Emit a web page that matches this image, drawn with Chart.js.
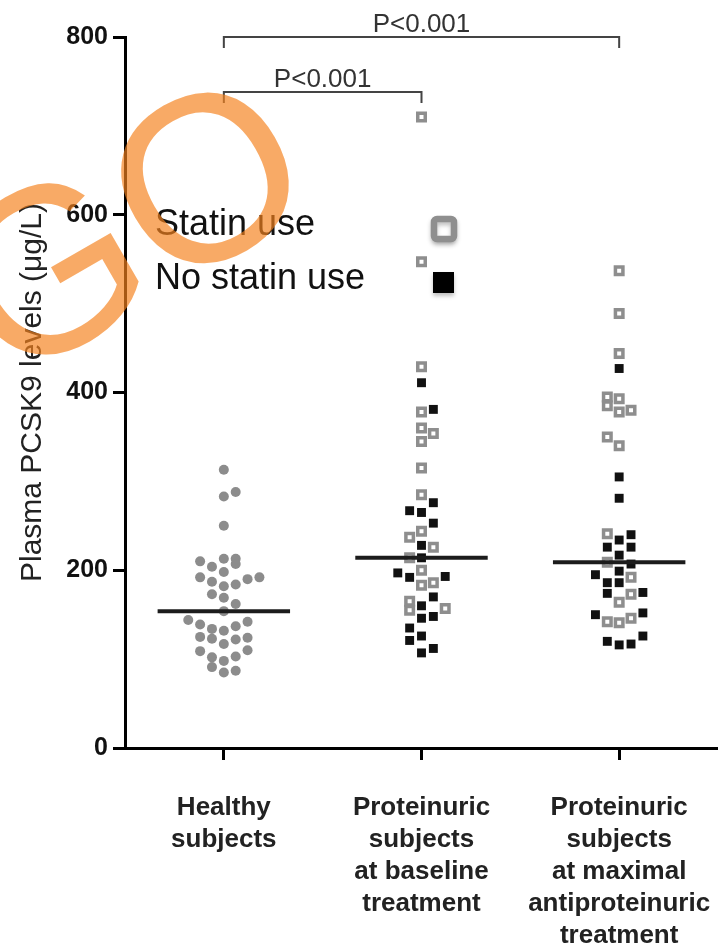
<!DOCTYPE html>
<html>
<head>
<meta charset="utf-8">
<title>Plasma PCSK9 levels</title>
<script src="https://cdn.jsdelivr.net/npm/chart.js@4.4.1/dist/chart.umd.min.js"></script>
<style>
  html, body { margin: 0; padding: 0; background: #fff; }
  #chartCanvas { display: block; }
</style>
</head>
<body>
<canvas id="chartCanvas" width="718" height="949"></canvas>
<script>
const groupLabels = [
    ["Healthy", "subjects"],
    ["Proteinuric", "subjects", "at baseline", "treatment"],
    ["Proteinuric", "subjects", "at maximal", "antiproteinuric", "treatment"]
];
const yTicks = [0, 200, 400, 600, 800];
const medians = [154, 214, 209];
const pLabels = ["P<0.001", "P<0.001"];
const seriesNames = ["Statin use", "No statin use"];

// each point: [column in the swarm, PCSK9 level]
const healthy = [
    [0, 313], [0, 283], [1, 288], [0, 250], [-2, 210], [-1, 204], [0, 213], [1, 213],
    [1, 207], [0, 198], [-2, 192], [-1, 187], [0, 182], [1, 184], [2, 190], [3, 192],
    [-1, 173], [0, 169], [1, 162], [0, 154], [-3, 144], [-2, 139], [-1, 134], [0, 132],
    [1, 137], [2, 142], [-2, 125], [-1, 123], [0, 117], [1, 122], [2, 124], [-2, 109],
    [-1, 102], [0, 98], [1, 103], [2, 110], [-1, 91], [0, 85], [1, 87]
];
const baselineStatin = [
    [0, 710], [0, 547], [0, 429], [0, 378], [0, 360], [1, 354], [0, 345], [0, 315],
    [0, 285], [0, 244], [-1, 237], [1, 226], [-1, 214], [0, 200], [0, 183], [1, 186],
    [-1, 165], [-1, 155], [2, 157]
];
const baselineNoStatin = [
    [0, 411], [1, 381], [1, 276], [-1, 267], [0, 265], [1, 253], [0, 228], [0, 214],
    [-2, 197], [-1, 192], [2, 193], [1, 170], [0, 160], [0, 146], [1, 148], [-1, 135],
    [-1, 121], [0, 126], [0, 107], [1, 112]
];
const maximalStatin = [
    [0, 537], [0, 489], [0, 444], [-1, 395], [0, 393], [-1, 385], [0, 378], [1, 380],
    [-1, 350], [0, 340], [-1, 241], [-1, 209], [1, 192], [1, 173], [0, 164], [-1, 142],
    [0, 141], [1, 146]
];
const maximalNoStatin = [
    [0, 427], [0, 305], [0, 281], [0, 234], [1, 240], [-1, 226], [1, 226], [0, 217],
    [1, 207], [0, 199], [-2, 195], [-1, 186], [0, 186], [-1, 174], [2, 175], [-2, 150],
    [2, 152], [-1, 120], [0, 116], [1, 117], [2, 126]
];

const SLOT = 0.06;
const HALF_MEDIAN = 0.335;

function toPoints(group, list) {
    return list.map(([slot, v]) => ({ x: group + slot * SLOT, y: v }));
}

function medianLine(group) {
    const v = medians[group - 1];
    return {
        type: 'line',
        data: [{ x: group - HALF_MEDIAN, y: v }, { x: group + HALF_MEDIAN, y: v }],
        borderColor: '#1c1c1c',
        borderWidth: 4,
        pointRadius: 0,
        order: 0
    };
}

const statinStyle = {
    pointStyle: 'rect',
    pointRadius: 5.3,
    pointBackgroundColor: '#ffffff',
    pointBorderColor: '#8e8e8e',
    pointBorderWidth: 3.5,
    order: 1
};
const noStatinStyle = {
    pointStyle: 'rect',
    pointRadius: 6.3,
    pointBackgroundColor: '#111111',
    pointBorderWidth: 0,
    order: 1
};

const annotations = {
    id: 'annotations',
    afterDraw(chart) {
        const ctx = chart.ctx;
        const x = chart.scales.x;
        const y = chart.scales.y;

        // significance brackets
        const brackets = [[1, 3, 800, pLabels[0]], [1, 2, 738, pLabels[1]]];
        ctx.save();
        ctx.strokeStyle = '#444';
        ctx.lineWidth = 2;
        ctx.fillStyle = '#333';
        ctx.font = '26px "Liberation Sans", Arial, sans-serif';
        ctx.textAlign = 'center';
        ctx.textBaseline = 'alphabetic';
        brackets.forEach(([a, b, level, text]) => {
            const x1 = x.getPixelForValue(a);
            const x2 = x.getPixelForValue(b);
            const yy = y.getPixelForValue(level);
            ctx.beginPath();
            ctx.moveTo(x1, yy + 11);
            ctx.lineTo(x1, yy);
            ctx.lineTo(x2, yy);
            ctx.lineTo(x2, yy + 11);
            ctx.stroke();
            ctx.fillText(text, (x1 + x2) / 2, yy - 5);
        });
        ctx.restore();

        // legend
        ctx.save();
        ctx.fillStyle = '#111';
        ctx.font = '36px "Liberation Sans", Arial, sans-serif';
        ctx.textAlign = 'left';
        ctx.textBaseline = 'middle';
        ctx.fillText(seriesNames[0], 155, 225);
        ctx.fillText(seriesNames[1], 155, 279);

        ctx.shadowColor = 'rgba(0,0,0,0.25)';
        ctx.shadowBlur = 4;
        ctx.shadowOffsetY = 3;
        ctx.strokeStyle = '#8f8f8f';
        ctx.lineWidth = 6.5;
        ctx.lineJoin = 'round';
        ctx.fillStyle = '#fff';
        ctx.beginPath();
        ctx.roundRect(434, 219, 20, 20, 3);
        ctx.fill();
        ctx.stroke();
        ctx.fillStyle = '#000';
        ctx.fillRect(433, 272, 21, 21);
        ctx.restore();

        // orange "GO" stamp over the plot
        ctx.save();
        ctx.translate(134, 238);
        ctx.rotate(-30 * Math.PI / 180);
        ctx.font = '236px "Liberation Sans", Arial, sans-serif';
        ctx.fillStyle = 'rgba(245, 130, 30, 0.68)';
        ctx.textAlign = 'center';
        ctx.textBaseline = 'middle';
        ctx.fillText('GO', 0, 0);
        ctx.restore();
    }
};

const ctx = document.getElementById('chartCanvas').getContext('2d');

new Chart(ctx, {
    type: 'scatter',
    data: {
        datasets: [
            medianLine(1),
            medianLine(2),
            medianLine(3),
            {
                label: 'Healthy subjects',
                data: toPoints(1, healthy),
                pointStyle: 'circle',
                pointRadius: 5,
                pointBackgroundColor: '#8c8c8c',
                pointBorderWidth: 0,
                order: 1
            },
            Object.assign({ label: seriesNames[0], data: toPoints(2, baselineStatin) }, statinStyle),
            Object.assign({ label: seriesNames[1], data: toPoints(2, baselineNoStatin) }, noStatinStyle),
            Object.assign({ label: seriesNames[0], data: toPoints(3, maximalStatin) }, statinStyle),
            Object.assign({ label: seriesNames[1], data: toPoints(3, maximalNoStatin) }, noStatinStyle)
        ]
    },
    plugins: [annotations],
    options: {
        responsive: false,
        animation: false,
        layout: { autoPadding: false, padding: { top: 37, right: 0, bottom: 0, left: 0 } },
        plugins: {
            legend: { display: false },
            tooltip: { enabled: false }
        },
        scales: {
            x: {
                type: 'linear',
                min: 0.5,
                max: 3.5,
                afterBuildTicks: axis => {
                    axis.ticks = groupLabels.map((_, i) => ({ value: i + 1 }));
                },
                afterFit: scale => {
                    scale.height = 201;
                    scale.paddingLeft = 0;
                    scale.paddingRight = 0;
                },
                border: { color: '#000', width: 3 },
                grid: {
                    drawOnChartArea: false,
                    color: '#000',
                    lineWidth: 3,
                    tickLength: 12
                },
                ticks: {
                    // leading empty line keeps the names clear of the tick marks
                    callback: v => groupLabels[v - 1] ? [''].concat(groupLabels[v - 1]) : '',
                    autoSkip: false,
                    maxRotation: 0,
                    padding: 0,
                    color: '#222',
                    font: { family: '"Liberation Sans", Arial, sans-serif', size: 26, weight: 'bold', lineHeight: '32px' }
                }
            },
            y: {
                min: 0,
                max: 800,
                afterBuildTicks: axis => {
                    axis.ticks = yTicks.map(v => ({ value: v }));
                },
                afterFit: scale => { scale.width = 125; },
                border: { color: '#000', width: 3 },
                grid: {
                    drawOnChartArea: false,
                    color: '#000',
                    lineWidth: 3,
                    tickLength: 12
                },
                ticks: {
                    padding: 5,
                    color: '#111',
                    font: { family: '"Liberation Sans", Arial, sans-serif', size: 25, weight: 'bold' }
                },
                title: {
                    display: true,
                    text: 'Plasma PCSK9 levels (μg/L)',
                    color: '#222',
                    padding: { top: 15, bottom: 0 },
                    font: { family: '"Liberation Sans", Arial, sans-serif', size: 30 }
                }
            }
        }
    }
});
</script>
</body>
</html>
